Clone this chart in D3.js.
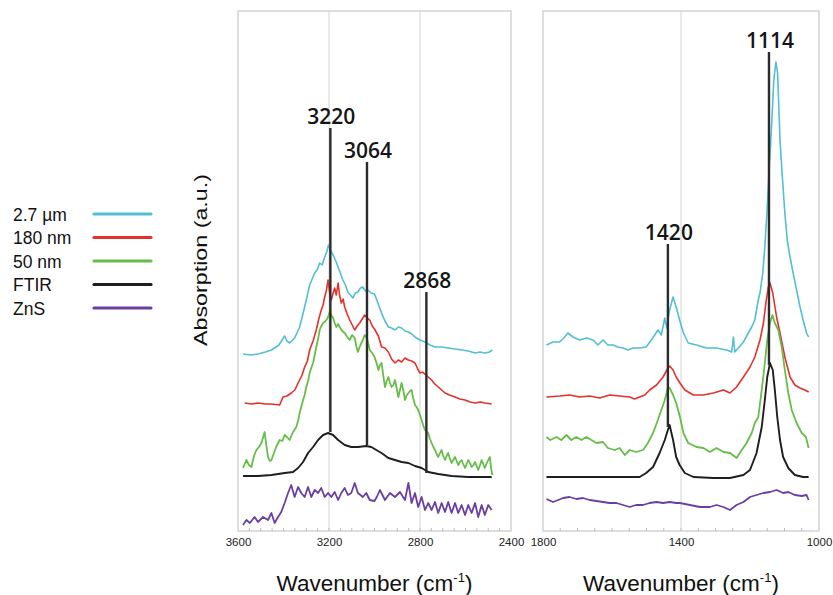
<!DOCTYPE html>
<html><head><meta charset="utf-8">
<script src="https://cdn.jsdelivr.net/npm/d3@7"></script>
<style>body{margin:0;background:#fff}svg{display:block}</style>
</head><body><svg id="c" width="833" height="595"></svg>
<script>
// ---------- DATA (wavenumber cm-1, absorption a.u.) ----------
const seriesNames = ["2.7 µm", "180 nm", "50 nm", "FTIR", "ZnS"];
const seriesColors = ["#52bfd3", "#e5312b", "#66bd4a", "#1e1e1e", "#6b3fa0"];

const left_2p7um = [[3578,177],[3545,176],[3512,177],[3480,179],[3453,181],[3420,186],[3395,195],[3385,190],[3373,188],[3351,193],[3329,204],[3307,224],[3285,246],[3263,258],[3250,262],[3241,268],[3230,266],[3219,274],[3210,279],[3202,286],[3192,280],[3182,276],[3170,270],[3160,264],[3150,258],[3139,251],[3128,246],[3117,239],[3106,236],[3095,233],[3084,238],[3073,239],[3062,243],[3051,244],[3040,240],[3029,241],[3015,238],[3000,237],[2985,228],[2969,218],[2954,210],[2939,204],[2925,203],[2910,201],[2895,204],[2881,203],[2866,200],[2851,199],[2836,197],[2822,194],[2800,191],[2778,189],[2756,186],[2734,184],[2705,184],[2676,183],[2646,182],[2617,181],[2588,180],[2558,178],[2536,179],[2515,178],[2495,179],[2482,181]];
const left_180nm = [[3571,128],[3540,127],[3512,128],[3480,127],[3453,127],[3417,126],[3402,134],[3385,135],[3366,138],[3350,141],[3336,148],[3320,155],[3307,164],[3295,170],[3285,181],[3270,190],[3256,201],[3245,212],[3234,221],[3226,226],[3219,234],[3212,240],[3204,251],[3197,238],[3190,231],[3182,238],[3175,243],[3168,236],[3160,248],[3153,235],[3146,228],[3138,232],[3131,224],[3120,217],[3109,211],[3098,206],[3087,201],[3076,205],[3065,208],[3054,212],[3043,216],[3032,213],[3021,211],[3010,205],[3000,202],[2983,195],[2969,184],[2954,183],[2939,179],[2925,172],[2910,168],[2895,171],[2881,169],[2866,173],[2851,171],[2837,170],[2822,168],[2810,162],[2800,158],[2789,159],[2778,157],[2764,154],[2749,151],[2735,147],[2720,144],[2705,141],[2690,138],[2670,136],[2646,134],[2625,132],[2602,131],[2580,129],[2558,128],[2535,129],[2515,128],[2485,127]];
const left_50nm = [[3578,63],[3563,71],[3552,66],[3541,64],[3530,75],[3519,81],[3508,84],[3497,88],[3483,99],[3475,85],[3468,74],[3460,70],[3453,71],[3442,78],[3432,84],[3417,91],[3405,90],[3395,96],[3385,94],[3373,91],[3358,99],[3344,104],[3336,110],[3329,118],[3314,131],[3307,136],[3300,144],[3292,150],[3285,158],[3278,163],[3270,168],[3263,176],[3256,184],[3248,192],[3241,201],[3234,205],[3226,208],[3219,209],[3212,211],[3204,214],[3197,219],[3190,216],[3182,213],[3175,208],[3168,204],[3160,207],[3153,204],[3142,200],[3131,198],[3120,194],[3109,191],[3098,196],[3087,193],[3080,185],[3073,179],[3062,186],[3051,191],[3043,196],[3036,194],[3028,188],[3021,181],[3010,178],[3000,174],[2991,168],[2983,161],[2976,166],[2969,168],[2961,155],[2954,144],[2946,150],[2939,154],[2932,148],[2925,144],[2917,146],[2910,151],[2902,142],[2895,134],[2888,141],[2881,148],[2873,140],[2866,131],[2858,136],[2851,138],[2844,140],[2837,141],[2830,133],[2822,126],[2815,124],[2808,121],[2800,116],[2793,111],[2785,105],[2778,101],[2770,99],[2764,98],[2756,92],[2749,88],[2741,84],[2734,81],[2727,77],[2720,74],[2712,78],[2705,81],[2698,75],[2690,71],[2683,75],[2676,78],[2668,72],[2661,68],[2654,71],[2646,74],[2639,70],[2632,66],[2625,69],[2617,71],[2610,67],[2602,63],[2595,67],[2588,71],[2580,68],[2573,64],[2565,66],[2558,69],[2551,65],[2544,61],[2536,66],[2529,71],[2522,67],[2515,63],[2508,67],[2500,71],[2493,74],[2487,62],[2482,56]];
const left_FTIR = [[3578,55],[3512,55],[3453,56],[3395,58],[3358,59],[3336,63],[3314,69],[3292,78],[3270,84],[3248,91],[3226,96],[3204,98],[3182,96],[3160,91],[3131,86],[3102,84],[3073,84],[3036,85],[3014,84],[2992,81],[2969,78],[2939,73],[2910,71],[2881,69],[2851,68],[2822,65],[2793,63],[2764,59],[2720,57],[2661,55],[2588,54],[2485,54]];
const left_ZnS = [[3578,6],[3563,11],[3548,8],[3527,14],[3512,9],[3490,14],[3468,11],[3453,18],[3439,8],[3424,14],[3410,19],[3395,28],[3380,38],[3366,46],[3351,34],[3336,44],[3322,38],[3307,34],[3292,44],[3278,34],[3263,41],[3248,38],[3234,43],[3219,34],[3204,38],[3190,34],[3175,39],[3160,31],[3146,38],[3131,43],[3117,36],[3102,38],[3087,48],[3073,38],[3051,34],[3036,38],[3021,31],[3000,30],[2990,34],[2976,41],[2954,31],[2932,38],[2910,34],[2888,39],[2866,31],[2851,48],[2837,28],[2822,38],[2808,24],[2793,34],[2778,21],[2764,28],[2749,21],[2734,29],[2720,18],[2705,28],[2690,19],[2676,29],[2661,18],[2646,28],[2632,18],[2617,26],[2602,16],[2588,26],[2573,18],[2558,28],[2544,14],[2529,26],[2515,16],[2500,26],[2485,21]];

const right_2p7um = [[1790,186],[1771,189],[1752,189],[1737,194],[1728,198],[1713,194],[1694,191],[1674,193],[1655,191],[1641,186],[1626,191],[1612,186],[1597,186],[1583,184],[1568,183],[1554,181],[1539,183],[1520,183],[1501,184],[1486,191],[1476,196],[1467,201],[1457,196],[1447,213],[1441,203],[1433,221],[1423,234],[1414,224],[1404,211],[1393,198],[1379,188],[1355,186],[1326,183],[1297,183],[1268,181],[1253,179],[1248,194],[1244,179],[1234,183],[1219,189],[1205,198],[1195,204],[1186,211],[1176,231],[1171,238],[1163,258],[1157,284],[1150,324],[1144,364],[1137,408],[1131,451],[1125,469],[1120,458],[1113,391],[1107,358],[1099,318],[1092,291],[1084,274],[1075,258],[1065,241],[1055,224],[1046,211],[1036,198],[1030,194]];
const right_180nm = [[1790,134],[1752,135],[1723,136],[1694,134],[1665,135],[1636,133],[1607,136],[1578,135],[1549,134],[1534,132],[1520,134],[1505,136],[1491,141],[1471,146],[1452,154],[1441,161],[1433,165],[1423,161],[1414,154],[1403,148],[1389,141],[1364,136],[1335,136],[1306,138],[1277,141],[1258,138],[1239,144],[1219,154],[1200,164],[1186,174],[1171,191],[1161,208],[1154,228],[1147,244],[1142,248],[1134,238],[1123,214],[1113,198],[1099,174],[1084,154],[1070,146],[1055,143],[1041,141],[1030,139]];
const right_50nm = [[1790,94],[1779,91],[1761,94],[1747,91],[1732,96],[1718,91],[1703,94],[1689,91],[1674,94],[1660,91],[1645,88],[1626,89],[1612,83],[1592,81],[1578,83],[1563,76],[1549,81],[1530,79],[1510,81],[1496,88],[1481,98],[1467,111],[1457,121],[1447,131],[1438,143],[1433,143],[1423,136],[1414,128],[1403,114],[1393,98],[1379,88],[1355,84],[1335,83],[1316,79],[1297,83],[1277,79],[1258,78],[1239,73],[1224,81],[1210,88],[1195,98],[1186,108],[1176,114],[1166,141],[1157,168],[1150,191],[1142,208],[1135,216],[1128,208],[1118,201],[1108,184],[1099,161],[1089,138],[1079,121],[1065,108],[1050,98],[1038,94],[1030,83]];
const right_FTIR = [[1790,54],[1703,54],[1607,54],[1520,54],[1501,58],[1481,64],[1462,78],[1447,91],[1438,101],[1433,106],[1423,91],[1414,74],[1404,66],[1389,58],[1364,54],[1306,53],[1258,53],[1219,56],[1200,61],[1181,78],[1166,104],[1157,131],[1150,154],[1142,168],[1134,161],[1128,141],[1121,114],[1113,91],[1104,74],[1089,63],[1070,56],[1046,54],[1030,54]];
const right_ZnS = [[1790,32],[1771,29],[1756,31],[1742,33],[1723,34],[1703,32],[1684,33],[1665,31],[1645,30],[1626,29],[1607,28],[1587,28],[1568,26],[1549,24],[1530,26],[1510,26],[1491,28],[1471,29],[1452,28],[1433,29],[1414,28],[1403,28],[1374,26],[1345,24],[1316,24],[1297,26],[1277,24],[1258,21],[1239,26],[1219,29],[1200,34],[1181,36],[1161,38],[1142,39],[1123,41],[1104,38],[1089,39],[1070,36],[1050,35],[1036,36],[1030,31]];

const leftSeries = [left_2p7um, left_180nm, left_50nm, left_FTIR, left_ZnS];
const rightSeries = [right_2p7um, right_180nm, right_50nm, right_FTIR, right_ZnS];

const leftTicks = [3600, 3200, 2800, 2400];
const rightTicks = [1800, 1400, 1000];
const leftGrid = [3200, 2800];
const rightGrid = [1400];

// peak markers: label, wavenumber, top value, bottom value
const leftPeaks = [["3220", 3194, 403, 99], ["3064", 3033, 369, 86], ["2868", 2772, 239, 58]];
const rightPeaks = [["1420", 1438, 287, 104], ["1114", 1145, 479, 166]];

// ---------- DRAW ----------
const svg = d3.select("#c");
const y = d3.scaleLinear().domain([0, 520]).range([531, 11]);
const xL = d3.scaleLinear().domain([3600, 2400]).range([238, 511]);
const xR = d3.scaleLinear().domain([1800, 1000]).range([543, 819]);
const widths = [1.6, 1.6, 1.8, 1.9, 1.8];

function panel(x, grid, ticks, series, peaks) {
  const g = svg.append("g");
  const [x0, x1] = x.range();
  g.append("rect").attr("x", x0).attr("y", y(520)).attr("width", x1 - x0).attr("height", y(0) - y(520))
    .attr("fill", "#fff").attr("stroke", "#c9c9c9").attr("stroke-width", 1.2);
  g.selectAll(".grid").data(grid).join("line")
    .attr("x1", d => x(d)).attr("x2", d => x(d)).attr("y1", y(520)).attr("y2", y(0))
    .attr("stroke", "#d2d2d2").attr("stroke-width", 1);
  const d0 = x.domain();
  const minor = d3.range(d0[0] - 50, d0[1], -50);
  g.selectAll(".minor").data(minor).join("line")
    .attr("x1", d => x(d)).attr("x2", d => x(d)).attr("y1", y(0)).attr("y2", y(0) - 3)
    .attr("stroke", "#bdbdbd").attr("stroke-width", 1);
  const ax = g.append("g").attr("transform", `translate(0,${y(0) + 4})`)
    .call(d3.axisBottom(x).tickValues(ticks).tickSize(0).tickFormat(d3.format("d")));
  ax.select(".domain").remove();
  ax.selectAll("text").attr("font-family", "Liberation Sans, Arial, sans-serif").attr("font-size", 11.5).attr("fill", "#222");
  const line = d3.line().x(d => x(d[0])).y(d => y(d[1]));
  series.forEach((s, i) => {
    g.append("path").datum(s).attr("d", line).attr("fill", "none")
      .attr("stroke", seriesColors[i]).attr("stroke-width", widths[i]).attr("stroke-linejoin", "round");
  });
  peaks.forEach(p => {
    g.append("line").attr("x1", x(p[1])).attr("x2", x(p[1])).attr("y1", y(p[2])).attr("y2", y(p[3]))
      .attr("stroke", "#2b2b2b").attr("stroke-width", 2.4);
    g.append("text").attr("x", x(p[1]) + 1).attr("y", y(p[2]) - 4).attr("text-anchor", "middle")
      .attr("font-family", "Open Sans, sans-serif").attr("font-weight", 600).attr("font-size", 21)
      .attr("fill", "#151515").text(p[0]);
  });
  const t = g.append("text").attr("x", (x0 + x1) / 2).attr("y", 591).attr("text-anchor", "middle")
    .attr("font-family", "Liberation Sans, Arial, sans-serif").attr("font-size", 22.5).attr("fill", "#111");
  t.append("tspan").text("Wavenumber (cm");
  t.append("tspan").attr("font-size", 13).attr("dy", -9).text("-1");
  t.append("tspan").attr("dy", 9).text(")");
}
panel(xL, leftGrid, leftTicks, leftSeries, leftPeaks);
panel(xR, rightGrid, rightTicks, rightSeries, rightPeaks);

svg.append("text").attr("transform", "translate(207,260) rotate(-90)").attr("text-anchor", "middle")
  .attr("font-family", "Liberation Sans, Arial, sans-serif").attr("font-size", 19)
  .attr("textLength", 172).attr("lengthAdjust", "spacingAndGlyphs").attr("fill", "#111").text("Absorption (a.u.)");

const leg = svg.append("g");
seriesNames.forEach((n, i) => {
  const yy = 214 + i * 23.5;
  leg.append("text").attr("x", 13).attr("y", yy + 6.5).attr("font-family", "Liberation Sans, Arial, sans-serif")
    .attr("font-size", 17.5).attr("fill", "#111").text(n);
  leg.append("line").attr("x1", 94).attr("x2", 151).attr("y1", yy).attr("y2", yy)
    .attr("stroke", seriesColors[i]).attr("stroke-width", 3.2).attr("stroke-linecap", "round");
});
</script></body></html>
